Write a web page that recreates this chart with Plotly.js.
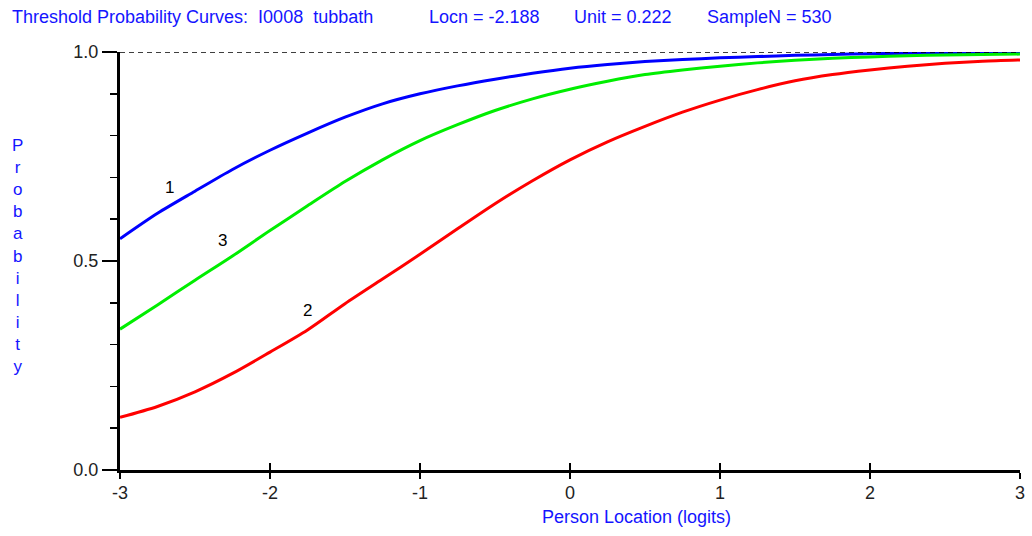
<!DOCTYPE html>
<html>
<head>
<meta charset="utf-8">
<script src="https://cdn.plot.ly/plotly-3.0.1.min.js"></script>
<style>html,body{margin:0;padding:0;background:#fff;}#chart{width:1032px;height:536px;}</style>
</head>
<body>
<div id="chart"></div>
<script>
// Person location (logits)
const locations = [-3, -2.75, -2.5, -2.25, -2, -1.75, -1.5, -1.25, -1, -0.75, -0.5, -0.25, 0,
                   0.25, 0.5, 0.75, 1, 1.25, 1.5, 1.75, 2, 2.25, 2.5, 2.75, 3];
// Threshold probability curves
const threshold1 = [0.553, 0.614, 0.667, 0.719, 0.765, 0.806, 0.844, 0.876, 0.900, 0.919, 0.935, 0.949, 0.961,
                    0.970, 0.977, 0.982, 0.986, 0.989, 0.992, 0.994, 0.996, 0.997, 0.998, 0.998, 0.999];
const threshold2 = [0.126, 0.152, 0.187, 0.231, 0.282, 0.335, 0.398, 0.457, 0.516, 0.577, 0.637, 0.692, 0.742,
                    0.785, 0.822, 0.856, 0.885, 0.910, 0.931, 0.946, 0.957, 0.966, 0.973, 0.978, 0.981];
const threshold3 = [0.337, 0.395, 0.454, 0.512, 0.573, 0.632, 0.690, 0.742, 0.788, 0.826, 0.860, 0.888, 0.911,
                    0.930, 0.946, 0.957, 0.966, 0.974, 0.980, 0.985, 0.988, 0.991, 0.993, 0.994, 0.995];
const curveLabels = [
  {text: '1', x: -2.67, y: 0.676},
  {text: '3', x: -2.32, y: 0.548},
  {text: '2', x: -1.75, y: 0.382}
];
const xTickVals = [-3, -2, -1, 0, 1, 2, 3];
const xTickText = ['-3', '-2', '-1', '0', '1', '2', '3'];
const yTickVals = [0, 0.5, 1.0];
const yTickText = ['0.0', '0.5', '1.0'];
const titleParts = [
  {text: 'Threshold Probability Curves:\u00a0\u00a0I0008\u00a0\u00a0tubbath', px: 10},
  {text: 'Locn = -2.188', px: 427},
  {text: 'Unit = 0.222', px: 572},
  {text: 'SampleN = 530', px: 705}
];
const xTitle = 'Person Location (logits)';
const yTitle = 'Probability';

const FONT = 'Arial, "Liberation Sans", sans-serif';
const BLUE_TEXT = '#1414ff';
const W = 1032, H = 536;

const traces = [
  {x: locations, y: threshold1, mode: 'lines', line: {color: '#0000ff', width: 3, shape: 'spline', smoothing: 0.8}, hoverinfo: 'x+y'},
  {x: locations, y: threshold3, mode: 'lines', line: {color: '#00ee00', width: 3, shape: 'spline', smoothing: 0.8}, hoverinfo: 'x+y'},
  {x: locations, y: threshold2, mode: 'lines', line: {color: '#ff0000', width: 3, shape: 'spline', smoothing: 0.8}, hoverinfo: 'x+y'},
  {x: [locations[0]], y: [0], xaxis: 'x2', mode: 'markers', marker: {opacity: 0}, hoverinfo: 'skip'}
];

const annotations = [];
titleParts.forEach(p => annotations.push({
  text: p.text, xref: 'paper', yref: 'paper', x: (p.px - 120) / 900, y: (470 - 17) / 418,
  xanchor: 'left', yanchor: 'middle', showarrow: false,
  font: {family: FONT, size: 18, color: BLUE_TEXT}
}));
annotations.push({
  text: xTitle, xref: 'paper', yref: 'paper', x: (636 - 120) / 900, y: (470 - 517) / 418,
  xanchor: 'center', yanchor: 'middle', showarrow: false,
  font: {family: FONT, size: 18, color: BLUE_TEXT}
});
annotations.push({
  text: yTitle.split('').join('<br>'), xref: 'paper', yref: 'paper', x: (17 - 120) / 900, y: (470 - 256) / 418,
  xanchor: 'center', yanchor: 'middle', showarrow: false, align: 'center',
  font: {family: FONT, size: 17, color: BLUE_TEXT}
});
curveLabels.forEach(c => annotations.push({
  text: c.text, x: c.x, y: c.y, xref: 'x', yref: 'y', showarrow: false,
  font: {family: FONT, size: 17, color: '#000'}
}));

const layout = {
  width: W, height: H,
  margin: {l: 120, r: 12, t: 52, b: 66, pad: 0},
  paper_bgcolor: '#fff', plot_bgcolor: '#fff',
  showlegend: false,
  font: {family: FONT, size: 18, color: '#222'},
  xaxis: {
    range: [-3, 3], tickvals: xTickVals, ticktext: xTickText,
    showgrid: false, zeroline: false, showline: true, linecolor: '#000', linewidth: 3,
    ticks: 'outside', ticklen: 6, tickwidth: 1.5, tickcolor: '#000', ticklabelstandoff: -2,
    tickfont: {family: FONT, size: 18, color: '#222'}, fixedrange: true
  },
  xaxis2: {
    overlaying: 'x', anchor: 'y', side: 'bottom', range: [-3, 3], tickvals: xTickVals,
    showticklabels: false, showgrid: false, zeroline: false, showline: false,
    ticks: 'inside', ticklen: 7, tickwidth: 1.5, tickcolor: '#000'
  },
  yaxis: {
    range: [0, 1.0], tickvals: yTickVals, ticktext: yTickText,
    showgrid: false, zeroline: false, showline: true, linecolor: '#000', linewidth: 3,
    ticks: 'outside', ticklen: 15, tickwidth: 1.5, tickcolor: '#000',
    minor: {dtick: 0.1, ticks: 'outside', ticklen: 7, tickwidth: 1.5, tickcolor: '#000', showgrid: false},
    tickfont: {family: FONT, size: 18, color: '#222'}, fixedrange: true
  },
  shapes: [{
    type: 'line', xref: 'x', yref: 'y', x0: -3, x1: 3, y0: 1, y1: 1,
    line: {color: '#000', width: 1.5, dash: '5px,4px'}
  }],
  annotations: annotations
};

Plotly.newPlot('chart', traces, layout, {displayModeBar: false, staticPlot: true});
</script>
</body>
</html>
